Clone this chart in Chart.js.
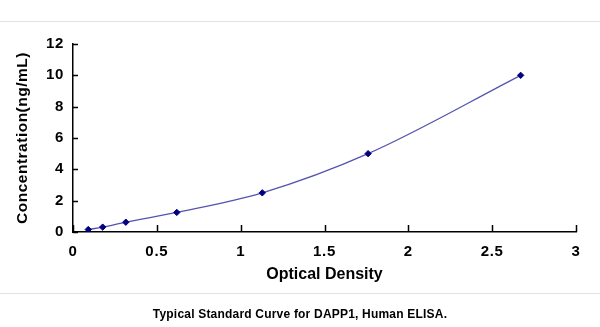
<!DOCTYPE html>
<html>
<head>
<meta charset="utf-8">
<script src="https://cdn.jsdelivr.net/npm/chart.js@4/dist/chart.umd.min.js"></script>
<style>
  html, body { margin: 0; padding: 0; background: #fff; }
  #wrap { position: relative; width: 600px; height: 327px; overflow: hidden; }
  #c { position: absolute; left: 0; top: 0; }
  .rule { position: absolute; left: 0; width: 600px; height: 1px; background: #e2e2e2; }
  #caption { position: absolute; left: 0; width: 600px; top: 307px; line-height: 13px;
    text-align: center; font: bold 12px "Liberation Sans", Arial, sans-serif; color: #000;
    letter-spacing: 0.2px; }
</style>
</head>
<body>
<div id="wrap">
  <div class="rule" style="top:21px"></div>
  <canvas id="c" width="600" height="327"></canvas>
  <div class="rule" style="top:293px"></div>
  <div id="caption">Typical Standard Curve for DAPP1, Human ELISA.</div>
</div>
<script>
const opticalDensity = [0.091, 0.177, 0.315, 0.619, 1.129, 1.76, 2.67];
const concentration = [0.156, 0.312, 0.625, 1.25, 2.5, 5, 10];
const xTickLabels = ['0', '0.5', '1', '1.5', '2', '2.5', '3'];
const yTickLabels = ['0', '2', '4', '6', '8', '10', '12'];

const FONT = '"Liberation Sans", Arial, sans-serif';

// slight letter spacing per font size (the reference text is horizontally stretched)
const spacingBySize = { '15px': '0.7px', '15.5px': '0.5px', '16px': '0px' };

const spacedText = {
  id: 'spacedText',
  beforeDraw(chart) {
    const ctx = chart.ctx;
    if (ctx.__spaced) return;
    ctx.__spaced = true;
    const orig = ctx.fillText;
    ctx.fillText = function () {
      const m = /(\d+(?:\.\d+)?px)/.exec(this.font);
      const ls = m && spacingBySize[m[1]] ? spacingBySize[m[1]] : '0px';
      const prev = this.letterSpacing;
      this.letterSpacing = ls;
      const r = orig.apply(this, arguments);
      this.letterSpacing = prev;
      return r;
    };
  }
};

const innerTicks = {
  id: 'innerTicks',
  afterDraw(chart) {
    const ctx = chart.ctx;
    const xs = chart.scales.x, ys = chart.scales.y;
    const area = chart.chartArea;
    ctx.save();
    ctx.strokeStyle = '#000';
    ctx.lineWidth = 1.5;
    ctx.beginPath();
    xs.ticks.forEach(t => {
      const px = Math.round(xs.getPixelForValue(t.value)) + 0.5;
      ctx.moveTo(px, area.bottom);
      ctx.lineTo(px, area.bottom - 7);
    });
    ys.ticks.forEach(t => {
      const py = Math.round(ys.getPixelForValue(t.value)) + 0.5;
      ctx.moveTo(area.left, py);
      ctx.lineTo(area.left + 5, py);
    });
    ctx.stroke();
    ctx.restore();
  }
};

new Chart(document.getElementById('c'), {
  type: 'scatter',
  data: {
    datasets: [{
      data: opticalDensity.map((x, i) => ({ x: x, y: concentration[i] })),
      showLine: true,
      cubicInterpolationMode: 'monotone',
      borderColor: '#5454b0',
      borderWidth: 1.3,
      pointStyle: 'rectRot',
      pointRadius: 3.2,
      pointBackgroundColor: '#000080',
      pointBorderColor: '#000080',
      pointBorderWidth: 1
    }]
  },
  options: {
    responsive: false,
    animation: false,
    events: [],
    layout: { padding: { left: 0, top: 44, right: 24, bottom: 43 } },
    plugins: { legend: { display: false }, tooltip: { enabled: false } },
    scales: {
      x: {
        type: 'linear', min: 0, max: 3,
        afterFit(s) { s.height = 52; },
        ticks: {
          stepSize: 0.5, padding: 11, color: '#000',
          font: { family: FONT, size: 15, weight: 'bold' },
          callback: (v, i) => xTickLabels[i]
        },
        grid: { display: true, drawOnChartArea: false, drawTicks: false },
        border: { display: true, color: '#000', width: 1.5 },
        title: {
          display: true, text: 'Optical Density', color: '#000',
          font: { family: FONT, size: 16, weight: 'bold' },
          padding: { top: 0, bottom: 0 }
        }
      },
      y: {
        type: 'linear', min: 0, max: 12,
        afterFit(s) { s.width = 73; },
        ticks: {
          stepSize: 2, padding: 9, color: '#000',
          font: { family: FONT, size: 15, weight: 'bold' },
          callback: (v, i) => yTickLabels[i]
        },
        grid: { display: true, drawOnChartArea: false, drawTicks: false },
        border: { display: true, color: '#000', width: 1.5 },
        title: {
          display: true, text: 'Concentration(ng/mL)', color: '#000',
          font: { family: FONT, size: 15.5, weight: 'bold' },
          padding: { top: 13, bottom: 0 }
        }
      }
    }
  },
  plugins: [spacedText, innerTicks]
});
</script>
</body>
</html>
